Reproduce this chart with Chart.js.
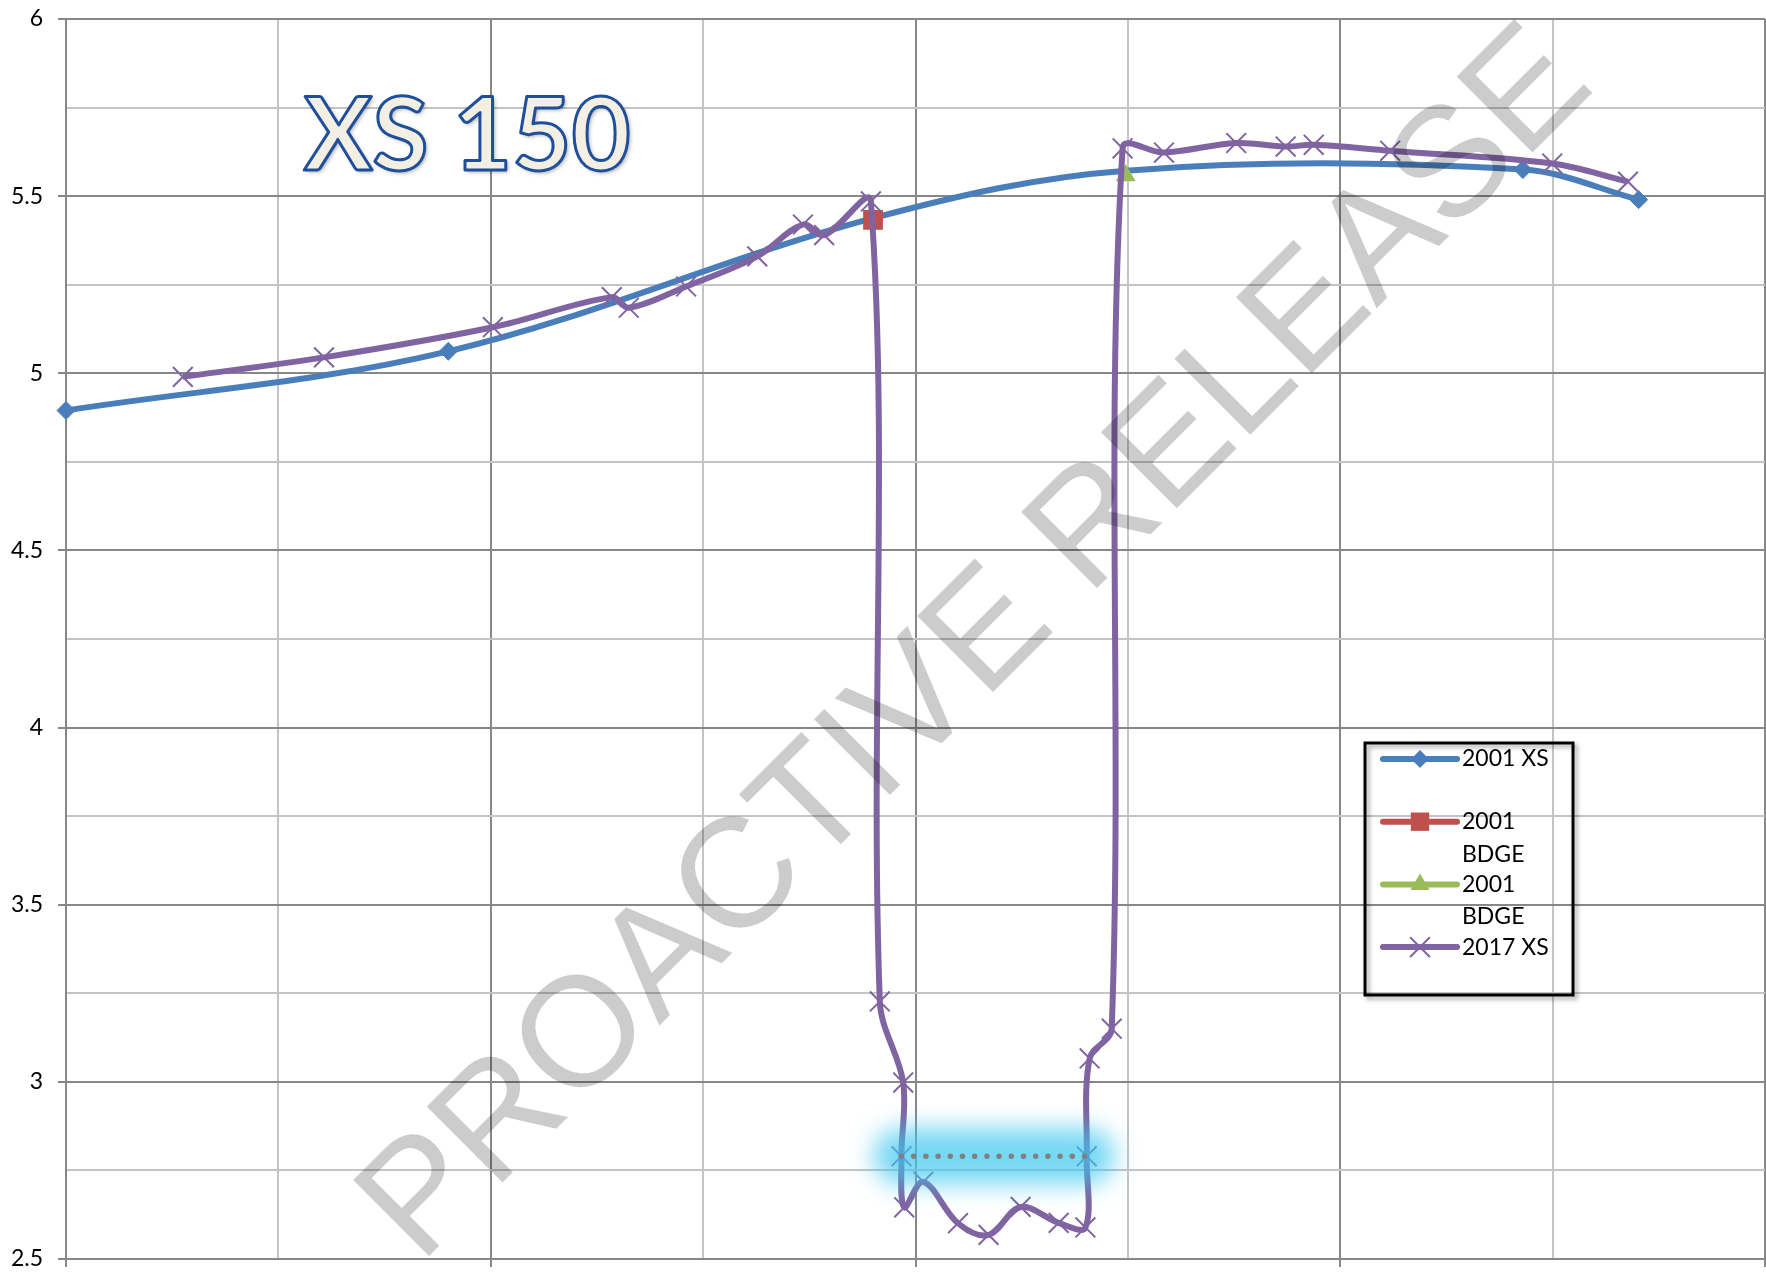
<!DOCTYPE html>
<html>
<head>
<meta charset="utf-8">
<title>XS 150</title>
<style>
html,body{margin:0;padding:0;background:#ffffff;overflow:hidden;}
#wrap{position:relative;width:1766px;height:1274px;}
canvas{display:block;}
</style>
<script src="https://cdn.jsdelivr.net/npm/chart.js@4.4.1/dist/chart.umd.min.js"></script>
</head>
<body>
<div id="wrap"><canvas id="c" width="1766" height="1274"></canvas></div>
<script>
// ---------------- data ----------------
const chartTitle = 'XS 150';
const watermarkText = 'PROACTIVE RELEASE';
const seriesNames = ['2001 XS', '2001 BDGE', '2001 BDGE', '2017 XS'];

// 2001 cross-section (blue, diamonds)
const xs2001X = [0, 18.0, 38.0, 49.9, 68.6, 74.05];
const xs2001Y = [4.895, 5.062, 5.438, 5.572, 5.575, 5.49];

// 2001 bridge deck points (red square, green triangle)
const bdgeLeftX = [38.0];
const bdgeLeftY = [5.433];
const bdgeRightX = [49.9];
const bdgeRightY = [5.558];

// 2017 cross-section (purple, crosses)
const xs2017X = [5.5, 12.15, 20.1, 25.7, 26.5, 29.2, 32.55, 34.7, 35.7, 37.9,
                 38.32, 39.42, 39.34, 39.47, 40.37, 42.0, 43.44, 44.95, 46.74, 48.0,
                 48.06, 48.2, 49.24, 49.75, 51.7, 55.1, 57.43, 58.75, 62.35, 69.98, 73.55];
const xs2017Y = [4.99, 5.045, 5.13, 5.215, 5.185, 5.245, 5.33, 5.42, 5.39, 5.485,
                 3.227, 2.998, 2.79, 2.646, 2.718, 2.601, 2.568, 2.647, 2.602, 2.589,
                 2.79, 3.066, 3.15, 5.635, 5.623, 5.65, 5.64, 5.645, 5.628, 5.592, 5.541];

// highlighted level (dotted, glowing)
const levelX = [39.34, 48.06];
const levelY = [2.79, 2.79];

// axes
const yMin = 2.5, yMax = 6, yStep = 0.25, yLabelStep = 0.5;
const xMin = 0, xMax = 80, xStep = 10, xMajorStep = 20;

// ---------------- helpers ----------------
const zip = (xs, ys) => xs.map((x, i) => ({x: x, y: ys[i]}));
const isMult = (v, s) => Math.abs(v / s - Math.round(v / s)) < 1e-6;

const C_BLUE = '#4a7ebb', C_RED = '#c0504d', C_GREEN = '#9bbb59', C_PURPLE = '#8064a2';
const GRID_MAJOR = '#878787', GRID_MINOR = '#c4c4c4';

const bdgeXs = bdgeLeftX.concat(bdgeRightX);

function drawMarker(ctx, style, x, y, r, color) {
  ctx.save();
  ctx.fillStyle = color; ctx.strokeStyle = color;
  ctx.beginPath();
  if (style === 'rectRot') {
    ctx.moveTo(x, y - r); ctx.lineTo(x + r, y); ctx.lineTo(x, y + r); ctx.lineTo(x - r, y); ctx.closePath(); ctx.fill();
  } else if (style === 'rect') {
    const s = r * Math.SQRT1_2; ctx.rect(x - s, y - s, 2 * s, 2 * s); ctx.fill();
  } else if (style === 'triangle') {
    for (let k = 0; k < 3; k++) {
      const a = k * 2 * Math.PI / 3;
      const px = x + Math.sin(a) * r, py = y - Math.cos(a) * r;
      if (k === 0) ctx.moveTo(px, py); else ctx.lineTo(px, py);
    }
    ctx.closePath(); ctx.fill();
  } else if (style === 'crossRot') {
    const d = r * Math.SQRT1_2; ctx.lineWidth = 2;
    ctx.moveTo(x - d, y - d); ctx.lineTo(x + d, y + d);
    ctx.moveTo(x - d, y + d); ctx.lineTo(x + d, y - d); ctx.stroke();
  }
  ctx.restore();
}

// ---------------- plugins ----------------
const glowPlugin = {
  id: 'glow',
  beforeDatasetDraw(chart, args) {
    if (chart.data.datasets[args.index].isGlow) {
      chart.ctx.save();
      chart.ctx.filter = 'blur(12px)';
    }
  },
  afterDatasetDraw(chart, args) {
    if (chart.data.datasets[args.index].isGlow) chart.ctx.restore();
  }
};

const decorPlugin = {
  id: 'decor',
  afterDraw(chart) {
    const ctx = chart.ctx;
    // ---- title (WordArt-like) ----
    ctx.save();
    ctx.font = 'bold 102px Lato, "Open Sans", sans-serif';
    ctx.textBaseline = 'alphabetic';
    ctx.textAlign = 'left';
    ctx.shadowColor = 'rgba(0,0,0,0.35)';
    ctx.shadowBlur = 4; ctx.shadowOffsetX = 2; ctx.shadowOffsetY = 2;
    ctx.fillStyle = '#f3f0e3';
    ctx.fillText(chartTitle, 304, 170);
    ctx.shadowColor = 'rgba(0,0,0,0)';
    ctx.lineWidth = 3; ctx.lineJoin = 'round';
    ctx.strokeStyle = '#1f4f9b';
    ctx.strokeText(chartTitle, 304, 170);
    ctx.restore();

    // ---- legend ----
    const bx = 1365, by = 743, bw = 208, bh = 252;
    ctx.save();
    ctx.shadowColor = 'rgba(0,0,0,0.35)';
    ctx.shadowBlur = 4; ctx.shadowOffsetX = 3; ctx.shadowOffsetY = 3;
    ctx.lineWidth = 3; ctx.strokeStyle = '#000';
    ctx.strokeRect(bx, by, bw, bh);
    ctx.restore();

    const items = chart.data.datasets.filter(d => d.inLegend);
    ctx.save();
    ctx.font = '23px Lato, "Open Sans", sans-serif';
    ctx.textBaseline = 'middle';
    ctx.fillStyle = '#000';
    const maxW = 98, lineH = 32.5, rowH = 62.7;
    items.forEach((d, i) => {
      const y = by + 16 + i * rowH;
      ctx.save();
      ctx.strokeStyle = d.borderColor; ctx.lineWidth = 6; ctx.lineCap = 'round';
      ctx.beginPath(); ctx.moveTo(bx + 18, y); ctx.lineTo(bx + 92, y); ctx.stroke();
      ctx.restore();
      drawMarker(ctx, d.pointStyle, bx + 55, y, d.legendRadius, d.pointBackgroundColor);
      // wrap text
      const words = d.label.split(' ');
      const lines = []; let cur = '';
      words.forEach(w => {
        const t = cur ? cur + ' ' + w : w;
        if (ctx.measureText(t).width > maxW && cur) { lines.push(cur); cur = w; } else cur = t;
      });
      lines.push(cur);
      lines.forEach((ln, j) => ctx.fillText(ln, bx + 97, y + j * lineH));
    });
    ctx.restore();

    // ---- watermark ----
    ctx.save();
    ctx.translate(420, 1265);
    ctx.rotate(-Math.PI / 4);
    ctx.font = '156px "Liberation Sans", Arial, sans-serif';
    ctx.textBaseline = 'alphabetic';
    ctx.textAlign = 'left';
    ctx.fillStyle = 'rgba(0,0,0,0.2)';
    ctx.fillText(watermarkText, 0, 0);
    ctx.restore();
  }
};

// ---------------- chart ----------------
const ctx = document.getElementById('c').getContext('2d');
new Chart(ctx, {
  type: 'line',
  data: {
    datasets: [
      {
        label: seriesNames[0], data: zip(xs2001X, xs2001Y), inLegend: true,
        borderColor: C_BLUE, backgroundColor: C_BLUE, borderWidth: 6,
        pointStyle: 'rectRot', legendRadius: 9,
        pointRadius: c => (c.raw && bdgeXs.some(v => Math.abs(v - c.raw.x) < 0.2)) ? 0 : 9,
        pointBackgroundColor: C_BLUE, pointBorderColor: C_BLUE, pointBorderWidth: 1,
        tension: 0.35, order: 6, clip: false
      },
      {
        label: seriesNames[1], data: zip(bdgeLeftX, bdgeLeftY), inLegend: true,
        borderColor: C_RED, backgroundColor: C_RED, borderWidth: 6,
        pointStyle: 'rect', pointRadius: 14, legendRadius: 13,
        pointBackgroundColor: C_RED, pointBorderColor: C_RED, pointBorderWidth: 0,
        showLine: false, order: 5, clip: false
      },
      {
        label: seriesNames[2], data: zip(bdgeRightX, bdgeRightY), inLegend: true,
        borderColor: C_GREEN, backgroundColor: C_GREEN, borderWidth: 6,
        pointStyle: 'triangle', pointRadius: 11.5, legendRadius: 11,
        pointBackgroundColor: C_GREEN, pointBorderColor: C_GREEN, pointBorderWidth: 0,
        showLine: false, order: 4, clip: false
      },
      {
        label: seriesNames[3], data: zip(xs2017X, xs2017Y), inLegend: true,
        borderColor: C_PURPLE, backgroundColor: C_PURPLE, borderWidth: 6,
        pointStyle: 'crossRot', pointRadius: 14, legendRadius: 14,
        pointBackgroundColor: C_PURPLE, pointBorderColor: C_PURPLE, pointBorderWidth: 2,
        tension: 0.35, order: 3, clip: false
      },
      {
        label: 'glow', data: zip(levelX, levelY), isGlow: true, inLegend: false,
        borderColor: 'rgba(60,200,240,0.7)', borderWidth: 56, borderCapStyle: 'round',
        pointRadius: 0, tension: 0, order: 2, clip: false
      },
      {
        label: 'level', data: zip(levelX, levelY), inLegend: false,
        borderColor: '#7f7f7f', borderWidth: 5.5, borderCapStyle: 'round', borderDash: [0, 12.2],
        pointRadius: 0, tension: 0, order: 1, clip: false
      }
    ]
  },
  options: {
    responsive: false,
    animation: false,
    devicePixelRatio: 1,
    events: [],
    layout: {autoPadding: false, padding: {left: 0, right: 1, top: 19, bottom: 0}},
    plugins: {legend: {display: false}, tooltip: {enabled: false}, title: {display: false}},
    elements: {line: {capBezierPoints: true}},
    scales: {
      x: {
        type: 'linear', min: xMin, max: xMax,
        ticks: {stepSize: xStep, display: false},
        grid: {
          color: c => isMult(c.tick.value, xMajorStep) ? GRID_MAJOR : GRID_MINOR,
          tickColor: c => isMult(c.tick.value, xMajorStep) ? GRID_MAJOR : 'rgba(0,0,0,0)',
          lineWidth: 2, tickLength: 8, drawTicks: true
        },
        border: {display: true, color: GRID_MAJOR, width: 2},
        afterFit: s => { s.height = 15; s.paddingLeft = 0; s.paddingRight = 0; }
      },
      y: {
        type: 'linear', min: yMin, max: yMax,
        ticks: {
          stepSize: yStep, maxTicksLimit: 100, autoSkip: false, padding: 15,
          color: '#000', font: {family: 'Lato, "Open Sans", sans-serif', size: 23},
          callback: v => isMult(v, yLabelStep) ? String(+v.toFixed(2)) : ''
        },
        grid: {
          color: c => isMult(c.tick.value, yLabelStep) ? GRID_MAJOR : GRID_MINOR,
          tickColor: c => isMult(c.tick.value, yLabelStep) ? GRID_MAJOR : 'rgba(0,0,0,0)',
          lineWidth: 2, tickLength: 8, drawTicks: true
        },
        border: {display: true, color: GRID_MAJOR, width: 2},
        afterFit: s => { s.width = 66; s.paddingTop = 0; s.paddingBottom = 0; }
      }
    }
  },
  plugins: [glowPlugin, decorPlugin]
});
</script>
</body>
</html>
